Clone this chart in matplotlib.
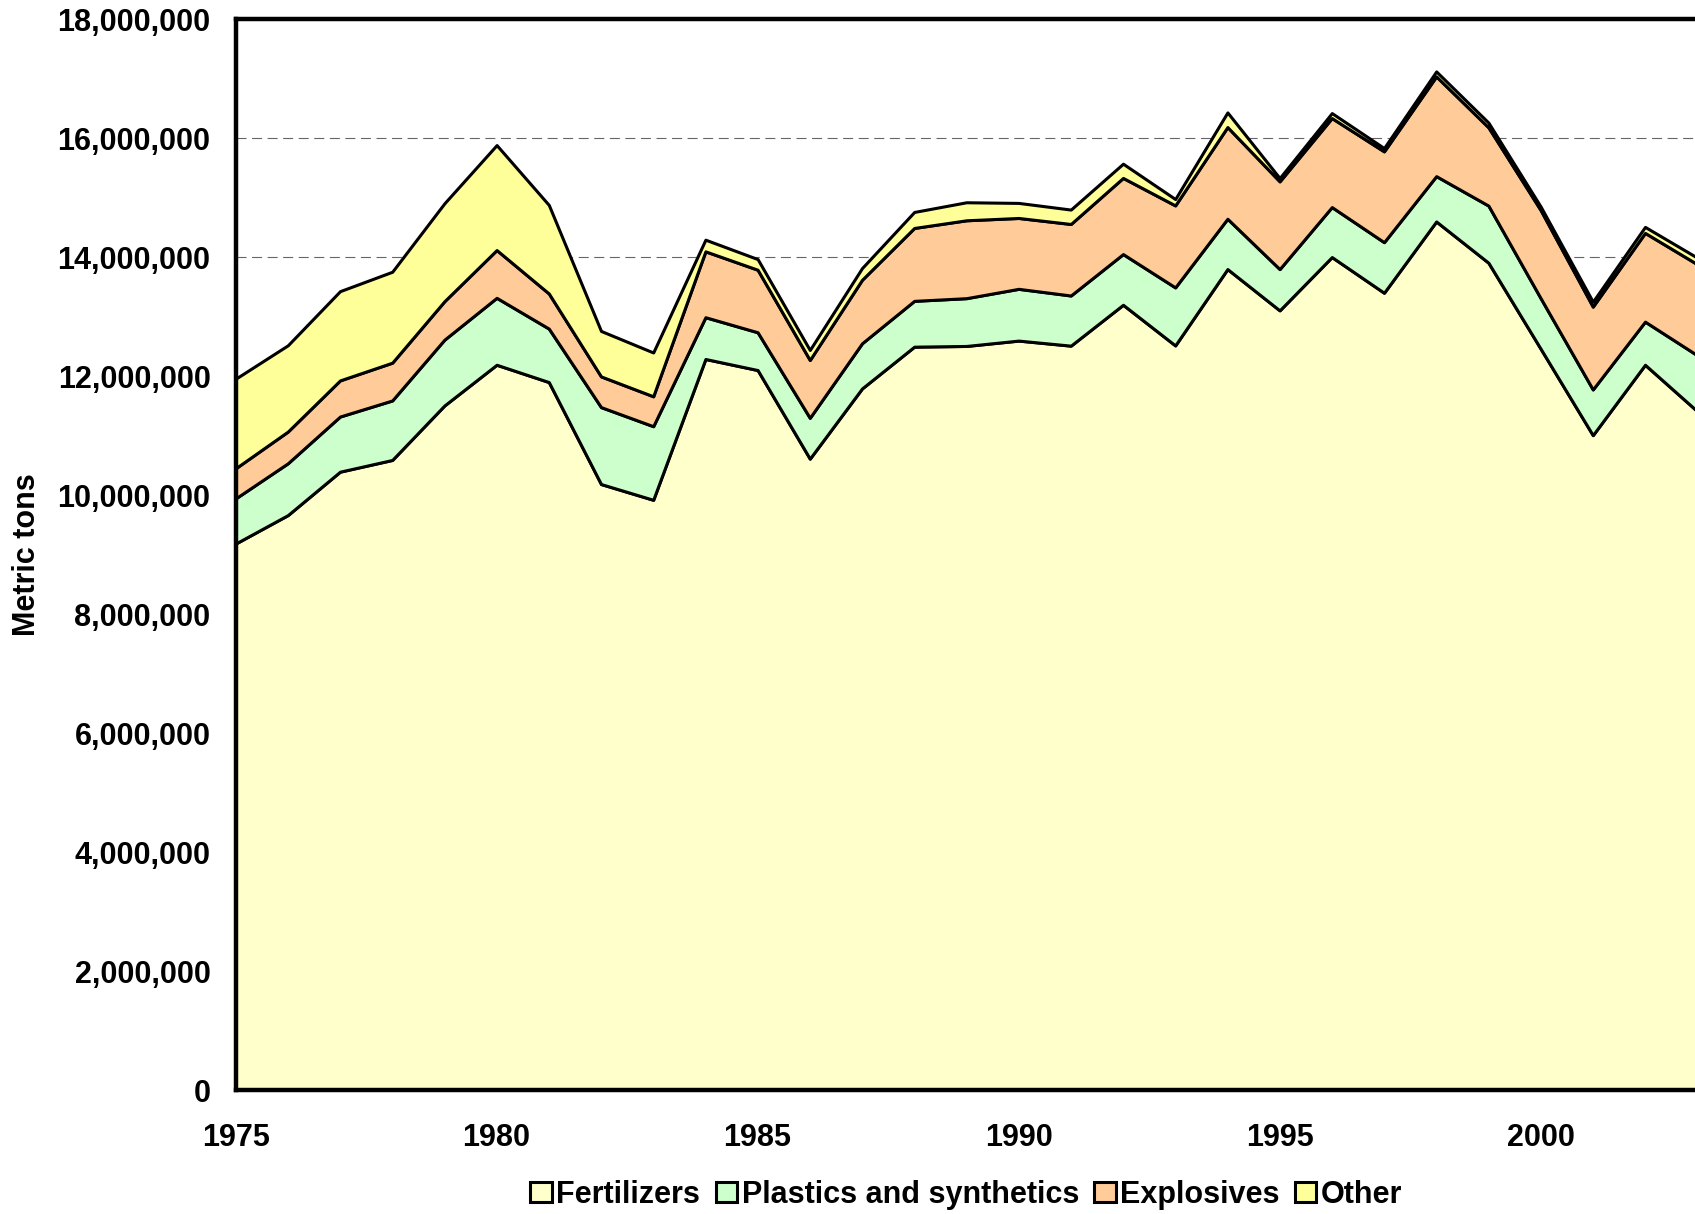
import matplotlib
matplotlib.use('Agg')
import matplotlib.pyplot as plt
from matplotlib.ticker import FuncFormatter

# Nitrogen use by category, metric tons
years = list(range(1975, 2004))
fertilizers = [9185000, 9663000, 10393000, 10590000, 11506000, 12190000, 11899000,
               10185000, 9920000, 12287000, 12101000, 10612000, 11792000, 12494000,
               12506000, 12596000, 12511000, 13198000, 12515000, 13798000, 13104000,
               14000000, 13400000, 14598000, 13905000, 12460000, 11007000, 12190000,
               11410000]
plastics = [759000, 871000, 927000, 1000000, 1106000, 1125000, 899000,
            1293000, 1237000, 702000, 635000, 686000, 759000, 770000,
            803000, 870000, 843000, 852000, 975000, 846000, 694000,
            840000, 850000, 762000, 960000, 850000, 768000, 725000,
            940000]
explosives = [506000, 533000, 607000, 635000, 646000, 803000, 590000,
              516000, 503000, 1107000, 1051000, 972000, 1067000, 1225000,
              1309000, 1191000, 1202000, 1280000, 1378000, 1541000, 1474000,
              1496000, 1526000, 1676000, 1315000, 1480000, 1392000, 1491000,
              1530000]
other = [1505000, 1450000, 1500000, 1528000, 1646000, 1764000, 1488000,
         764000, 736000, 196000, 179000, 168000, 197000, 269000,
         303000, 253000, 242000, 239000, 107000, 246000, 56000,
         84000, 56000, 84000, 80000, 60000, 83000, 101000,
         110000]
labels = ['Fertilizers', 'Plastics and synthetics', 'Explosives', 'Other']
colors = ['#FFFFCC', '#CCFFCC', '#FFCC99', '#FFFF99']

plt.rcParams['font.family'] = ['Liberation Sans', 'DejaVu Sans']
plt.rcParams['font.weight'] = 'bold'

fig = plt.figure(figsize=(16.95, 12.14), dpi=100)
# axes runs a little past the right edge, like the cropped original
ax = fig.add_axes([0.139, 0.1021, 0.8623, 0.8822])

ax.stackplot(years, fertilizers, plastics, explosives, other,
             labels=labels, colors=colors, edgecolor='black', linewidth=2.2)

ax.set_xlim(1975, 2003)
ax.set_ylim(0, 18000000)
ax.set_xticks(range(1975, 2004, 5))
ax.set_yticks(range(0, 18000001, 2000000))
ax.yaxis.set_major_formatter(FuncFormatter(lambda v, p: f'{int(v):,}'))
ax.tick_params(axis='both', length=0, labelsize=22)
ax.tick_params(axis='x', pad=24)
ax.tick_params(axis='y', pad=18)
for t in ax.get_xticklabels() + ax.get_yticklabels():
    t.set_fontweight('bold')

ax.set_axisbelow(True)
ax.yaxis.grid(True, color='#666666', linewidth=0.8, linestyle=(0, (9, 5)))

for side in ['left', 'top', 'bottom']:
    ax.spines[side].set_linewidth(3.2)
ax.spines['right'].set_visible(False)

fig.text(0.0158, 0.543, 'Metric tons', rotation=90, ha='center', va='center',
         fontsize=22, fontweight='bold')

ax.legend(loc='center', bbox_to_anchor=(0.5, -0.0976), ncol=4, frameon=False,
          fontsize=22, handlelength=0.7, handleheight=0.65, handletextpad=0.15,
          columnspacing=0.5, borderaxespad=0)

fig.savefig('out.png', dpi=100)
